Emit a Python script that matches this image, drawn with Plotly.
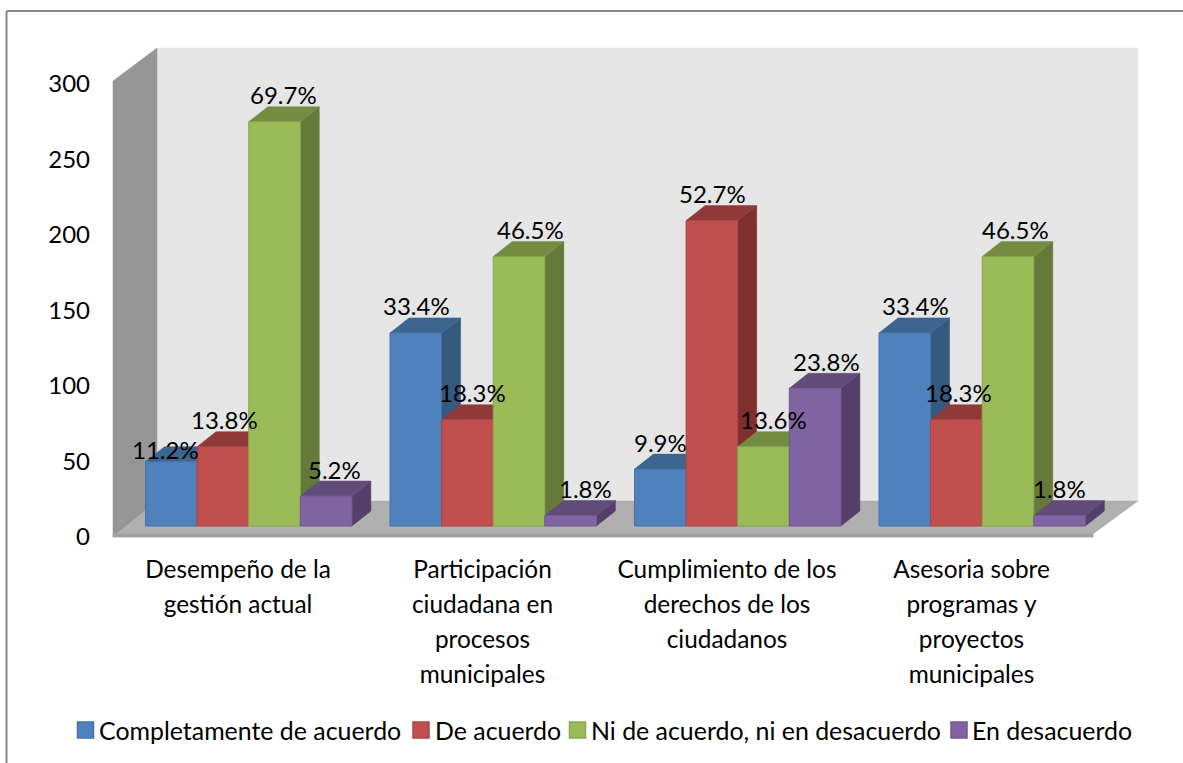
import plotly.graph_objects as go

# ---- data ----
categories = [
    ["Desempeño de la", "gestión actual"],
    ["Participación", "ciudadana en", "procesos", "municipales"],
    ["Cumplimiento de los", "derechos de los", "ciudadanos"],
    ["Asesoria sobre", "programas y", "proyectos", "municipales"],
]
series_names = ["Completamente de acuerdo", "De acuerdo",
                "Ni de acuerdo, ni en desacuerdo", "En desacuerdo"]
completamente = [43, 129, 38, 129]
de_acuerdo = [53, 71, 204, 71]
ni_ni = [270, 180, 53, 180]
en_desacuerdo = [20, 7, 92, 7]
pct_completamente = ["11.2%", "33.4%", "9.9%", "33.4%"]
pct_de_acuerdo = ["13.8%", "18.3%", "52.7%", "18.3%"]
pct_ni_ni = ["69.7%", "46.5%", "13.6%", "46.5%"]
pct_en_desacuerdo = ["5.2%", "1.8%", "23.8%", "1.8%"]
y_ticks = [0, 50, 100, 150, 200, 250, 300]

series = [completamente, de_acuerdo, ni_ni, en_desacuerdo]
labels = [pct_completamente, pct_de_acuerdo, pct_ni_ni, pct_en_desacuerdo]

# ---- style and layout ----
W, H = 1183, 763
L, R, T, B = 113, 1138, 48, 537      # pixel box holding the 3D "room"
FONT = "Lato, Carlito, Calibri, sans-serif"
FS = 24
front = ["#4f81bd", "#c0504d", "#9bbb59", "#8064a2"]
edge = ["#4872a6", "#aa4644", "#8aa74f", "#715990"]
top = ["#3c6590", "#8f3a38", "#748c42", "#604b79"]
side = ["#35597f", "#7f2f2d", "#657a3a", "#543f69"]

UNIT = 244.5            # px between clusters
BAR_W = 51.6            # px width of one bar
FIRST = 145.5           # px left of the first bar
TICK0 = 238             # px of the first category label
BAR_Y0 = 526            # px of bar baseline
PX_PER_VAL = 1.497      # px per value, at the plane of the bars
DX, DY = 19, 15         # px depth of a bar

x_range = [(L - TICK0) / UNIT, (R - TICK0) / UNIT]
ux = lambda px: (px - TICK0) / UNIT
y2_range = [(BAR_Y0 - B) / PX_PER_VAL, (BAR_Y0 - T) / PX_PER_VAL]
dx_u = DX / UNIT
dy_u = DY / PX_PER_VAL
w_u = BAR_W / UNIT

fig = go.Figure()

# keeps the main value axis alive
fig.add_trace(go.Scatter(x=[None], y=[None], xaxis="x", yaxis="y", mode="markers",
                         showlegend=False, hoverinfo="skip"))

# side and top faces (below the bar fronts), left to right
for c in range(len(categories)):
    for s, vals in enumerate(series):
        v = vals[c]
        x0 = ux(FIRST) + c + s * w_u
        x1 = x0 + w_u
        fig.add_trace(go.Scatter(
            x=[x1, x1 + dx_u, x1 + dx_u, x1, x1], y=[0, dy_u, v + dy_u, v, 0],
            xaxis="x", yaxis="y3", mode="lines", fill="toself", fillcolor=side[s],
            line=dict(color=side[s], width=0.5), hoverinfo="skip", showlegend=False))
        fig.add_trace(go.Scatter(
            x=[x0, x1, x1 + dx_u, x0 + dx_u, x0], y=[v, v, v + dy_u, v + dy_u, v],
            xaxis="x", yaxis="y3", mode="lines", fill="toself", fillcolor=top[s],
            line=dict(color=top[s], width=0.5), hoverinfo="skip", showlegend=False))

# bar fronts
for s, vals in enumerate(series):
    fig.add_trace(go.Bar(
        x=[ux(FIRST) + c + (s + 0.5) * w_u for c in range(len(categories))],
        y=vals, width=w_u, xaxis="x2", yaxis="y2",
        marker=dict(color=front[s], line=dict(color=edge[s], width=1)),
        name=series_names[s], showlegend=False, hoverinfo="y"))

# data labels, nudged the way the reference places them
label_shift = [
    [-6, 1, 0, 11],
    [2, 5, 1, 2],
    [9, 11, 10, 7],
    [8, 15, 11, 0],
]
annotations = []
for s, vals in enumerate(series):
    for c, v in enumerate(vals):
        annotations.append(dict(
            x=ux(FIRST) + c + (s + 0.5) * w_u, y=v, xref="x2", yref="y2",
            text=labels[s][c], showarrow=False, xanchor="center", yanchor="middle",
            xshift=label_shift[s][c], yshift=12 if (s, c) == (0, 0) else 27,
            font=dict(family=FONT, size=FS, color="#000000")))

# legend drawn in pixel positions (square swatch + text)
def px(x):
    return (x - L) / (R - L)
def py(y):
    return (B - y) / (B - T)

legend_x = [77.5, 413, 569.5, 951]
legend_text_x = [100, 436, 592, 973]
LEG_Y = 730
shapes_legend = []
for s, name in enumerate(series_names):
    shapes_legend.append(dict(
        type="rect", xref="paper", yref="paper", x0=px(legend_x[s]), x1=px(legend_x[s] + 16),
        y0=py(LEG_Y + 8), y1=py(LEG_Y - 8), fillcolor=front[s],
        line=dict(color=edge[s], width=1.5)))
    annotations.append(dict(
        x=px(legend_text_x[s]), y=py(LEG_Y), xref="paper", yref="paper", text=name,
        showarrow=False, xanchor="left", yanchor="middle", xshift=-3,
        font=dict(family=FONT, size=24.9, color="#000000")))

# chart frame and 3D walls
def paper_poly(points, color):
    pts = [(px(x), py(y)) for x, y in points]
    path = "M" + " L".join(f"{a:.5f},{b:.5f}" for a, b in pts) + " Z"
    return dict(type="path", xref="paper", yref="paper", layer="below", path=path,
                fillcolor=color, line=dict(color=color, width=0.5))

def frame_line(x0, y0, x1, y1):
    return dict(type="line", xref="paper", yref="paper", layer="below",
                x0=px(x0), y0=py(y0), x1=px(x1), y1=py(y1),
                line=dict(color="#8a8a8a", width=2))

WX, WY = 44, 33  # px depth of the room
shapes = [
    frame_line(6.5, 11, W, 11),
    frame_line(6.5, 11, 6.5, H),
    paper_poly([(L + WX, T), (R, T), (R, B - WY - 3), (L + WX, B - WY - 3)], "#e6e6e6"),
    paper_poly([(L, 81), (L + WX, T), (L + WX, B - WY - 3), (L, B)], "#969696"),
    paper_poly([(L, B), (L + WX, B - WY - 3), (R, B - WY - 3), (1093, B - 3), (1093, B)], "#b0b0b0"),
    paper_poly([(L, B - 3), (1093, B - 3), (1093, B), (L, B)], "#a0a0a0"),
] + shapes_legend

TICK_ZERO_PX, TICK_TOP_PX = 537, 84
val_px = (TICK_ZERO_PX - TICK_TOP_PX) / 300
fig.update_layout(
    width=W, height=H, autosize=False,
    margin=dict(l=L, r=W - R, t=T, b=H - B, pad=0),
    paper_bgcolor="#ffffff", plot_bgcolor="rgba(0,0,0,0)",
    font=dict(family=FONT, size=FS, color="#000000"),
    barmode="overlay", showlegend=False,
    shapes=shapes, annotations=annotations,
    xaxis=dict(range=x_range, tickmode="array", tickvals=list(range(len(categories))),
               ticktext=["<br>".join(f'<span style="font-size:24.4px">{t}</span>' for t in lines)
                         for lines in categories],
               tickfont=dict(family=FONT, size=27, color="#000000"),
               ticks="", showgrid=False, zeroline=False, showline=False,
               ticklabelstandoff=13, tickangle=0),
    yaxis=dict(range=[0, (TICK_ZERO_PX - T) / val_px],
               tickmode="array", tickvals=y_ticks,
               tickfont=dict(family=FONT, size=FS, color="#000000"),
               ticks="", showgrid=False, zeroline=False, showline=False,
               ticklabelstandoff=22),
    xaxis2=dict(range=x_range, overlaying="x", matches="x", visible=False),
    yaxis2=dict(range=y2_range, overlaying="y", anchor="x2", visible=False),
    yaxis3=dict(range=y2_range, overlaying="y", anchor="x", visible=False),
)

fig.write_html("out.html", config=dict(displayModeBar=False),
               post_script="document.body.style.margin='0';")
